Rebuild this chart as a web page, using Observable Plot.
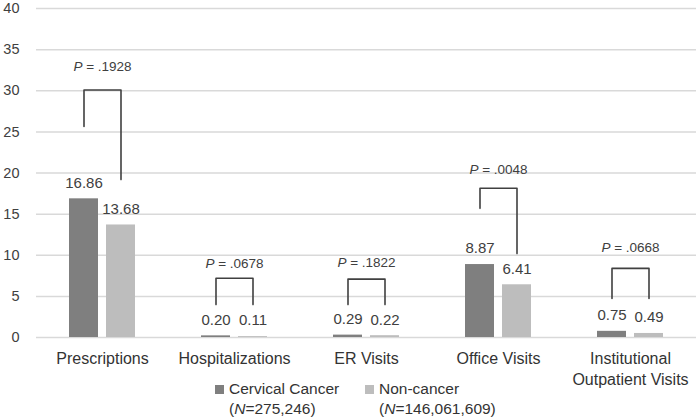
<!DOCTYPE html>
<html>
<head>
<meta charset="utf-8">
<script src="https://cdn.jsdelivr.net/npm/d3@7"></script>
<script src="https://cdn.jsdelivr.net/npm/@observablehq/plot@0.6"></script>
<style>
  body { margin: 0; background: #fff; }
  #wrap { position: relative; width: 700px; height: 420px; font-family: "Liberation Sans", Arial, sans-serif; color: #333; }
  #wrap svg { position: absolute; left: 0; top: 0; }
  #legend { position: absolute; left: 215px; top: 379px; display: flex; z-index: 2; }
  .item { display: flex; width: 150px; font-size: 15.5px; line-height: 20px; }
  .sw { width: 9px; height: 9px; margin-top: 6px; margin-right: 5px; flex: none; }
</style>
</head>
<body>
<div id="wrap"></div>
<script>
const categories = ["Prescriptions", "Hospitalizations", "ER Visits", "Office Visits", "Institutional Outpatient Visits"];
const categoryLabels = ["Prescriptions", "Hospitalizations", "ER Visits", "Office Visits", "Institutional\nOutpatient Visits"];
const groups = ["Cervical Cancer", "Non-cancer"];
const groupN = ["275,246", "146,061,609"];
const groupColors = ["#7f7f7f", "#bdbdbd"];
const cervicalValues = [16.86, 0.20, 0.29, 8.87, 0.75];
const noncancerValues = [13.68, 0.11, 0.22, 6.41, 0.49];
const pValues = [".1928", ".0678", ".1822", ".0048", ".0668"];
// annotation brackets, in data units
const bracketTop = [30.1, 7.2, 7.1, 18.15, 8.4];
const bracketLeftEnd = [25.65, 4.0, 4.0, 15.7, 4.75];
const bracketRightEnd = [19.2, 4.0, 4.0, 10.2, 4.75];
const pLabelY = [32.9, 9.0, 9.15, 20.4, 10.95];
const yTicks = [0, 5, 10, 15, 20, 25, 30, 35, 40];

const bars = [];
categories.forEach((c, i) => {
  bars.push({cat: c, group: groups[0], value: cervicalValues[i]});
  bars.push({cat: c, group: groups[1], value: noncancerValues[i]});
});
const bracketPts = [];
categories.forEach((c, i) => {
  bracketPts.push({cat: c, g: groups[0], y: bracketLeftEnd[i]});
  bracketPts.push({cat: c, g: groups[0], y: bracketTop[i]});
  bracketPts.push({cat: c, g: groups[1], y: bracketTop[i]});
  bracketPts.push({cat: c, g: groups[1], y: bracketRightEnd[i]});
});
const pData = categories.map((c, i) => ({cat: c, p: pValues[i], y: pLabelY[i]}));

const chart = Plot.plot({
  width: 700,
  height: 420,
  marginLeft: 34,
  marginRight: 2,
  marginTop: 8,
  marginBottom: 83,
  style: {fontFamily: "'Liberation Sans', Arial, sans-serif", fontSize: "15px", color: "#404040", background: "white"},
  fx: {domain: categories, padding: 0, label: null},
  x: {domain: groups, paddingInner: 0.21, paddingOuter: 0.85, axis: null},
  y: {domain: [0, 40], label: null},
  color: {domain: groups, range: groupColors},
  marks: [
    Plot.gridY(yTicks, {stroke: "#d9d9d9", strokeOpacity: 1, strokeWidth: 1.5}),
    Plot.axisY(yTicks, {tickSize: 0, tickPadding: 17, fontSize: 14.5, label: null, fill: "#404040"}),
    Plot.axisFx({anchor: "bottom", tickSize: 0, tickPadding: 12, fontSize: 16, lineHeight: 1.3, label: null, fill: "#333",
      tickFormat: d => categoryLabels[categories.indexOf(d)]}),
    Plot.barY(bars, {fx: "cat", x: "group", y: "value", fill: "group"}),
    Plot.text(bars, {fx: "cat", x: "group", y: "value", text: d => d3.format(".2f")(d.value), dy: -16, fontSize: 15, fill: "#404040"}),
    Plot.line(bracketPts, {fx: "cat", x: "g", y: "y", z: "cat", stroke: "#404040", strokeWidth: 1.6}),
    Plot.text(pData, {fx: "cat", y: "y", text: d => "P = " + d.p, fontSize: 13.5, fill: "#404040"})
  ]
});

d3.select(chart).selectAll("text").each(function() {
  const t = this.textContent;
  if (t.startsWith("P = ")) {
    const el = d3.select(this);
    el.text(null);
    el.append("tspan").attr("font-style", "italic").text("P");
    el.append("tspan").text(t.slice(1));
  }
});

const wrap = document.getElementById("wrap");
wrap.appendChild(chart);
const legend = document.createElement("div");
legend.id = "legend";
legend.innerHTML = groups.map((g, i) =>
  `<div class="item"><div class="sw" style="background:${groupColors[i]}"></div><div>${g}<br>(<i>N</i>=${groupN[i]})</div></div>`
).join("");
wrap.appendChild(legend);
</script>
</body>
</html>
